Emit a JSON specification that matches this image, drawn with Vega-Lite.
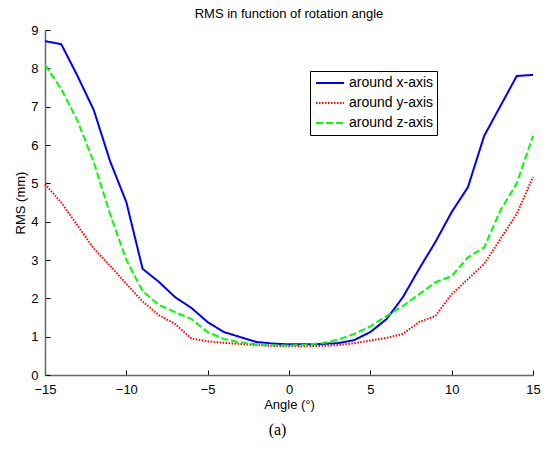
{
  "$schema": "https://vega.github.io/schema/vega-lite/v6.json",
  "padding": {"left": 14, "top": 8, "right": 13, "bottom": 5},
  "config": {
    "font": "Liberation Sans",
    "view": {"stroke": null},
    "legend": {
      "orient": "none", "legendX": 265, "legendY": 41,
      "strokeColor": "black", "fillColor": "white", "padding": 3, "cornerRadius": 0,
      "symbolType": "stroke", "symbolSize": 784, "symbolStrokeWidth": 2, "symbolOffset": 2, "labelOffset": 4,
      "clipHeight": 18, "labelFontSize": 14, "labelColor": "black", "rowPadding": 2, "title": null
    }
  },
  "title": {"text": "(a)", "orient": "bottom", "anchor": "middle", "font": "Liberation Serif", "fontSize": 16, "fontWeight": "normal", "offset": 11, "color": "black"},
  "vconcat": [
    {
      "width": 488,
      "height": 345,
      "title": {"text": "RMS in function of rotation angle", "fontSize": 13, "fontWeight": "normal", "offset": 3, "color": "black"},
      "data": {"values": [
        {"angle": -15, "rms": 8.71, "series": "around x-axis"},
        {"angle": -14, "rms": 8.63, "series": "around x-axis"},
        {"angle": -13, "rms": 7.8, "series": "around x-axis"},
        {"angle": -12, "rms": 6.91, "series": "around x-axis"},
        {"angle": -11, "rms": 5.58, "series": "around x-axis"},
        {"angle": -10, "rms": 4.51, "series": "around x-axis"},
        {"angle": -9, "rms": 2.77, "series": "around x-axis"},
        {"angle": -8, "rms": 2.43, "series": "around x-axis"},
        {"angle": -7, "rms": 2.03, "series": "around x-axis"},
        {"angle": -6, "rms": 1.75, "series": "around x-axis"},
        {"angle": -5, "rms": 1.38, "series": "around x-axis"},
        {"angle": -4, "rms": 1.12, "series": "around x-axis"},
        {"angle": -3, "rms": 0.99, "series": "around x-axis"},
        {"angle": -2, "rms": 0.86, "series": "around x-axis"},
        {"angle": -1, "rms": 0.82, "series": "around x-axis"},
        {"angle": 0, "rms": 0.8, "series": "around x-axis"},
        {"angle": 1, "rms": 0.8, "series": "around x-axis"},
        {"angle": 2, "rms": 0.81, "series": "around x-axis"},
        {"angle": 3, "rms": 0.83, "series": "around x-axis"},
        {"angle": 4, "rms": 0.91, "series": "around x-axis"},
        {"angle": 5, "rms": 1.12, "series": "around x-axis"},
        {"angle": 6, "rms": 1.46, "series": "around x-axis"},
        {"angle": 7, "rms": 2.03, "series": "around x-axis"},
        {"angle": 8, "rms": 2.77, "series": "around x-axis"},
        {"angle": 9, "rms": 3.47, "series": "around x-axis"},
        {"angle": 10, "rms": 4.25, "series": "around x-axis"},
        {"angle": 11, "rms": 4.9, "series": "around x-axis"},
        {"angle": 12, "rms": 6.24, "series": "around x-axis"},
        {"angle": 13, "rms": 7.02, "series": "around x-axis"},
        {"angle": 14, "rms": 7.8, "series": "around x-axis"},
        {"angle": 15, "rms": 7.83, "series": "around x-axis"},
        {"angle": -15, "rms": 4.98, "series": "around y-axis"},
        {"angle": -14, "rms": 4.5, "series": "around y-axis"},
        {"angle": -13, "rms": 3.9, "series": "around y-axis"},
        {"angle": -12, "rms": 3.3, "series": "around y-axis"},
        {"angle": -11, "rms": 2.85, "series": "around y-axis"},
        {"angle": -10, "rms": 2.38, "series": "around y-axis"},
        {"angle": -9, "rms": 1.92, "series": "around y-axis"},
        {"angle": -8, "rms": 1.56, "series": "around y-axis"},
        {"angle": -7, "rms": 1.33, "series": "around y-axis"},
        {"angle": -6, "rms": 0.95, "series": "around y-axis"},
        {"angle": -5, "rms": 0.88, "series": "around y-axis"},
        {"angle": -4, "rms": 0.84, "series": "around y-axis"},
        {"angle": -3, "rms": 0.81, "series": "around y-axis"},
        {"angle": -2, "rms": 0.78, "series": "around y-axis"},
        {"angle": -1, "rms": 0.76, "series": "around y-axis"},
        {"angle": 0, "rms": 0.75, "series": "around y-axis"},
        {"angle": 1, "rms": 0.75, "series": "around y-axis"},
        {"angle": 2, "rms": 0.76, "series": "around y-axis"},
        {"angle": 3, "rms": 0.78, "series": "around y-axis"},
        {"angle": 4, "rms": 0.83, "series": "around y-axis"},
        {"angle": 5, "rms": 0.9, "series": "around y-axis"},
        {"angle": 6, "rms": 0.97, "series": "around y-axis"},
        {"angle": 7, "rms": 1.07, "series": "around y-axis"},
        {"angle": 8, "rms": 1.38, "series": "around y-axis"},
        {"angle": 9, "rms": 1.54, "series": "around y-axis"},
        {"angle": 10, "rms": 2.11, "series": "around y-axis"},
        {"angle": 11, "rms": 2.5, "series": "around y-axis"},
        {"angle": 12, "rms": 2.9, "series": "around y-axis"},
        {"angle": 13, "rms": 3.55, "series": "around y-axis"},
        {"angle": 14, "rms": 4.2, "series": "around y-axis"},
        {"angle": 15, "rms": 5.17, "series": "around y-axis"},
        {"angle": -15, "rms": 8.09, "series": "around z-axis"},
        {"angle": -14, "rms": 7.46, "series": "around z-axis"},
        {"angle": -13, "rms": 6.63, "series": "around z-axis"},
        {"angle": -12, "rms": 5.55, "series": "around z-axis"},
        {"angle": -11, "rms": 4.2, "series": "around z-axis"},
        {"angle": -10, "rms": 3.0, "series": "around z-axis"},
        {"angle": -9, "rms": 2.19, "series": "around z-axis"},
        {"angle": -8, "rms": 1.83, "series": "around z-axis"},
        {"angle": -7, "rms": 1.64, "series": "around z-axis"},
        {"angle": -6, "rms": 1.46, "series": "around z-axis"},
        {"angle": -5, "rms": 1.12, "series": "around z-axis"},
        {"angle": -4, "rms": 0.94, "series": "around z-axis"},
        {"angle": -3, "rms": 0.85, "series": "around z-axis"},
        {"angle": -2, "rms": 0.8, "series": "around z-axis"},
        {"angle": -1, "rms": 0.78, "series": "around z-axis"},
        {"angle": 0, "rms": 0.77, "series": "around z-axis"},
        {"angle": 1, "rms": 0.79, "series": "around z-axis"},
        {"angle": 2, "rms": 0.83, "series": "around z-axis"},
        {"angle": 3, "rms": 0.92, "series": "around z-axis"},
        {"angle": 4, "rms": 1.07, "series": "around z-axis"},
        {"angle": 5, "rms": 1.27, "series": "around z-axis"},
        {"angle": 6, "rms": 1.54, "series": "around z-axis"},
        {"angle": 7, "rms": 1.8, "series": "around z-axis"},
        {"angle": 8, "rms": 2.11, "series": "around z-axis"},
        {"angle": 9, "rms": 2.42, "series": "around z-axis"},
        {"angle": 10, "rms": 2.58, "series": "around z-axis"},
        {"angle": 11, "rms": 3.07, "series": "around z-axis"},
        {"angle": 12, "rms": 3.33, "series": "around z-axis"},
        {"angle": 13, "rms": 4.3, "series": "around z-axis"},
        {"angle": 14, "rms": 5.0, "series": "around z-axis"},
        {"angle": 15, "rms": 6.24, "series": "around z-axis"}
      ]},
      "mark": {"type": "line", "strokeWidth": 2},
      "encoding": {
        "x": {
          "field": "angle", "type": "quantitative",
          "scale": {"domain": [-15, 15], "nice": false},
          "axis": {
            "values": [-15, -10, -5, 0, 5, 10, 15], "grid": false,
            "title": "Angle (°)", "titleFontSize": 13, "titleFontWeight": "normal", "titlePadding": 2, "titleColor": "black",
            "labelFontSize": 13, "labelColor": "black", "labelPadding": 13, "labelFlush": false,
            "tickSize": -5, "tickColor": "black", "domainColor": "#666666", "domainWidth": 1.5
          }
        },
        "y": {
          "field": "rms", "type": "quantitative",
          "scale": {"domain": [0, 9], "nice": false},
          "axis": {
            "values": [0, 1, 2, 3, 4, 5, 6, 7, 8, 9], "grid": false,
            "title": "RMS (mm)", "titleFontSize": 13, "titleFontWeight": "normal", "titlePadding": 3, "titleColor": "black",
            "labelFontSize": 13, "labelColor": "black", "labelPadding": 12,
            "tickSize": -5, "tickColor": "black", "domainColor": "#666666", "domainWidth": 1.5
          }
        },
        "color": {
          "field": "series", "type": "nominal",
          "scale": {"domain": ["around x-axis", "around y-axis", "around z-axis"], "range": ["#0000ff", "#ff0000", "#00ff00"]}
        },
        "strokeDash": {
          "field": "series", "type": "nominal",
          "scale": {"domain": ["around x-axis", "around y-axis", "around z-axis"], "range": [[1, 0], [1.5, 1.5], [7, 3]]}
        }
      }
    }
  ]
}
